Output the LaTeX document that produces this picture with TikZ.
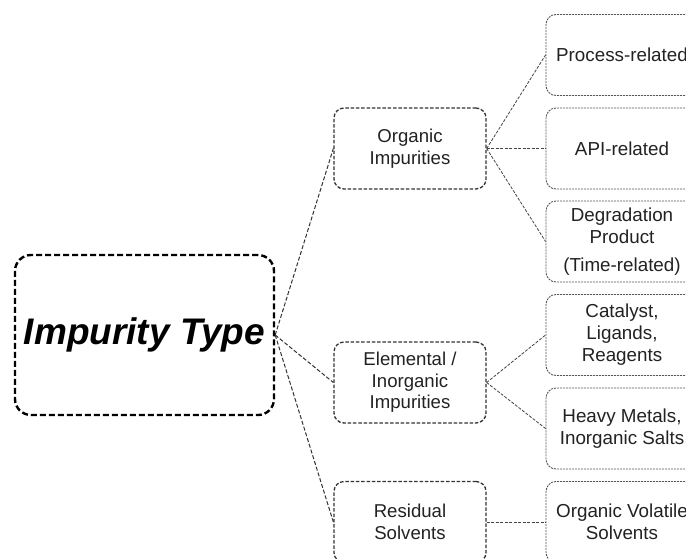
\documentclass[tikz,border=0pt]{standalone}
\usepackage{fontspec}
\setmainfont{Liberation Sans}
\definecolor{txt}{HTML}{222222}
\definecolor{midb}{HTML}{333333}
\definecolor{rgtb}{HTML}{555555}
\definecolor{conn}{HTML}{444444}
\begin{document}
\begin{tikzpicture}[x=1pt,y=-1pt,
  rootbox/.style={draw=black, line width=2.4pt, dash pattern=on 6pt off 3pt, rounded corners=16pt,
    minimum width=259pt, minimum height=160pt, inner sep=0pt,
    font=\fontsize{37}{42}\selectfont\bfseries\itshape},
  midbox/.style={draw=midb, line width=1.3pt, dash pattern=on 3.5pt off 1.8pt, rounded corners=10pt,
    minimum width=152pt, minimum height=81pt, inner sep=0pt, align=center, text=txt,
    font=\fontsize{18.6}{21.5}\selectfont},
  rgtbox/.style={draw=rgtb, line width=0.9pt, dash pattern=on 2pt off 1pt, rounded corners=10pt,
    minimum width=152pt, minimum height=81pt, inner sep=0pt, align=center, text=txt,
    font=\fontsize{18.8}{22}\selectfont},
  rootline/.style={draw=midb, line width=1pt, dash pattern=on 4pt off 2pt},
  link/.style={draw=conn, line width=0.8pt, dash pattern=on 3pt off 1.5pt}]
\clip (0,0) rectangle (686,558);
\fill[white] (0,0) rectangle (686,558);
\node[rootbox] (root) at (144.5,335) {Impurity Type};
\node[midbox] (org) at (410,148.5) {Organic\\Impurities};
\node[midbox] (ele) at (410,382.5) {Elemental /\\Inorganic\\Impurities};
\node[midbox] (res) at (410,522) {Residual\\Solvents};
\node[rgtbox] (proc) at (622,55) {Process-related};
\node[rgtbox] (api) at (622,148.5) {API-related};
\node[rgtbox] (deg) at (622,241.5) {Degradation\\Product\\[6pt](Time-related)};
\node[rgtbox] (cat) at (622,335) {Catalyst,\\Ligands,\\Reagents};
\node[rgtbox] (heavy) at (622,428.5) {Heavy Metals,\\Inorganic Salts};
\node[rgtbox] (ovs) at (622,522) {Organic Volatile\\Solvents};
\draw[rootline] (root.east) -- (org.west);
\draw[rootline] (root.east) -- (ele.west);
\draw[rootline] (root.east) -- (res.west);
\draw[link] (org.east) -- (proc.west);
\draw[link] (org.east) -- (api.west);
\draw[link] (org.east) -- (deg.west);
\draw[link] (ele.east) -- (cat.west);
\draw[link] (ele.east) -- (heavy.west);
\draw[link] (res.east) -- (ovs.west);
\end{tikzpicture}
\end{document}
